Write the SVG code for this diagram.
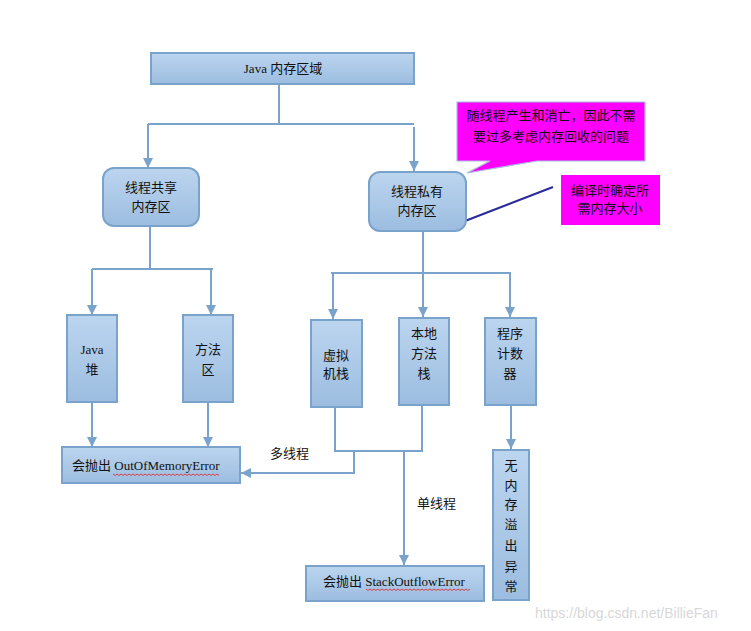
<svg xmlns="http://www.w3.org/2000/svg" width="751" height="631" viewBox="0 0 751 631">
<style>
.box{fill:url(#g);stroke:#7aa3cc;stroke-width:2}
.ln{fill:none;stroke:#7aa3cc;stroke-width:2}
.arr{marker-end:url(#ah)}
.t{font-family:"Liberation Serif","Noto Sans CJK SC",serif;font-size:13px;fill:#111}
.c{font-family:"Noto Sans CJK SC","Liberation Sans",sans-serif;font-size:13px;fill:#111}
.m{text-anchor:middle}
.sq{fill:none;stroke:#e02020;stroke-width:0.8}
</style>
<defs>
<linearGradient id="g" x1="0" y1="0" x2="0" y2="1">
<stop offset="0" stop-color="#bcd5ef"/>
<stop offset="1" stop-color="#9cbde0"/>
</linearGradient>
<marker id="ah" viewBox="0 0 10 10" refX="10" refY="5" markerWidth="5" markerHeight="5" orient="auto" markerUnits="strokeWidth">
<path d="M0,0 L10,5 L0,10 Z" fill="#7aa3cc"/>
</marker>
</defs>
<rect width="751" height="631" fill="#fff"/>

<g id="connectors">
<path class="ln" d="M279,84 V124 M148,124 H414"/>
<path class="ln arr" d="M148,124 V168"/>
<path class="ln arr" d="M414,127 V171"/>
<path class="ln" d="M150,226 V269 M92,269 H213"/>
<path class="ln arr" d="M92,269 V315"/>
<path class="ln arr" d="M211,269 V315"/>
<path class="ln" d="M423,231 V273 M331,273 H511"/>
<path class="ln arr" d="M333,273 V319"/>
<path class="ln arr" d="M423,273 V317"/>
<path class="ln arr" d="M510,273 V317"/>
<path class="ln arr" d="M92,402 V447"/>
<path class="ln arr" d="M208,402 V447"/>
<path class="ln" d="M335,407 V451 H422 V405"/>
<path class="ln arr" d="M354,451 V473 H241"/>
<path class="ln arr" d="M404,451 V565"/>
<path class="ln arr" d="M511,405 V449"/>
<path d="M465,221 L553,187" fill="none" stroke="#2a2a9a" stroke-width="2"/>
</g>

<g id="top"><rect class="box" x="151" y="53" width="263" height="31"/><text class="t m" x="283" y="73">Java 内存区域</text></g>

<g id="shared"><rect class="box" x="103" y="168" width="96" height="58" rx="11"/><text class="c m" x="151" y="192">线程共享</text><text class="c m" x="151" y="211">内存区</text></g>

<g id="private"><rect class="box" x="369" y="172" width="97" height="59" rx="11"/><text class="c m" x="417" y="196">线程私有</text><text class="c m" x="417" y="215">内存区</text></g>

<g id="note1"><path d="M457,102 H645 V161 H537 L467,173 L490,161 H457 Z" fill="#ff00ff" stroke="#a8bedc" stroke-width="1.2"/><text class="c m" x="551" y="120">随线程产生和消亡，因此不需</text><text class="c m" x="551" y="141">要过多考虑内存回收的问题</text></g>

<g id="note2"><rect x="561" y="175" width="99" height="50" fill="#ff00ff"/><text class="c m" x="610" y="195">编译时确定所</text><text class="c m" x="610" y="213">需内存大小</text></g>

<g id="heap"><rect class="box" x="67" y="315" width="50" height="87"/><text class="t m" x="92" y="354">Java</text><text class="c m" x="92" y="374">堆</text></g>

<g id="method"><rect class="box" x="183" y="315" width="50" height="87"/><text class="c m" x="208" y="354">方法</text><text class="c m" x="208" y="374">区</text></g>

<g id="vmstack"><rect class="box" x="311" y="320" width="51" height="87"/><text class="c m" x="336" y="360">虚拟</text><text class="c m" x="336" y="378">机栈</text></g>

<g id="native"><rect class="box" x="399" y="318" width="50" height="87"/><text class="c m" x="424" y="338">本地</text><text class="c m" x="424" y="358">方法</text><text class="c m" x="424" y="378">栈</text></g>

<g id="pc"><rect class="box" x="485" y="318" width="51" height="87"/><text class="c m" x="510" y="338">程序</text><text class="c m" x="510" y="358">计数</text><text class="c m" x="510" y="378">器</text></g>

<g id="oom"><rect class="box" x="62" y="447" width="178" height="36"/><text class="t" x="72" y="470">会抛出 OutOfMemoryError</text><path class="sq" d="M113,474 l2,1.5 l2,-1.5 l2,1.5 l2,-1.5 l2,1.5 l2,-1.5 l2,1.5 l2,-1.5 l2,1.5 l2,-1.5 l2,1.5 l2,-1.5 l2,1.5 l2,-1.5 l2,1.5 l2,-1.5 l2,1.5 l2,-1.5 l2,1.5 l2,-1.5 l2,1.5 l2,-1.5 l2,1.5 l2,-1.5 l2,1.5 l2,-1.5 l2,1.5 l2,-1.5 l2,1.5 l2,-1.5 l2,1.5 l2,-1.5 l2,1.5 l2,-1.5 l2,1.5 l2,-1.5 l2,1.5 l2,-1.5 l2,1.5 l2,-1.5 l2,1.5 l2,-1.5 l2,1.5 l2,-1.5 l2,1.5 l2,-1.5 l2,1.5 l2,-1.5 l2,1.5 l2,-1.5 l2,1.5 l2,-1.5 l2,1.5"/></g>

<g id="soe"><rect class="box" x="306" y="566" width="178" height="35"/><text class="t" x="323" y="586">会抛出 StackOutflowError</text><path class="sq" d="M366,589 l2,1.5 l2,-1.5 l2,1.5 l2,-1.5 l2,1.5 l2,-1.5 l2,1.5 l2,-1.5 l2,1.5 l2,-1.5 l2,1.5 l2,-1.5 l2,1.5 l2,-1.5 l2,1.5 l2,-1.5 l2,1.5 l2,-1.5 l2,1.5 l2,-1.5 l2,1.5 l2,-1.5 l2,1.5 l2,-1.5 l2,1.5 l2,-1.5 l2,1.5 l2,-1.5 l2,1.5 l2,-1.5 l2,1.5 l2,-1.5 l2,1.5 l2,-1.5 l2,1.5 l2,-1.5 l2,1.5 l2,-1.5 l2,1.5 l2,-1.5 l2,1.5 l2,-1.5 l2,1.5 l2,-1.5 l2,1.5 l2,-1.5 l2,1.5 l2,-1.5 l2,1.5 l2,-1.5 l2,1.5 l2,-1.5"/></g>

<g id="noovf"><rect class="box" x="493" y="450" width="36" height="150"/>
<text class="c m" x="511" y="470">无</text><text class="c m" x="511" y="490">内</text><text class="c m" x="511" y="509">存</text><text class="c m" x="511" y="529">溢</text><text class="c m" x="511" y="550">出</text><text class="c m" x="511" y="571">异</text><text class="c m" x="511" y="591">常</text></g>

<text class="c" x="270" y="458">多线程</text>
<text class="c" x="417" y="508">单线程</text>
<text x="535" y="618" font-family="'Liberation Sans',Arial,sans-serif" font-size="14" fill="#d8d8d8">https://blog.csdn.net/BillieFan</text>
</svg>
